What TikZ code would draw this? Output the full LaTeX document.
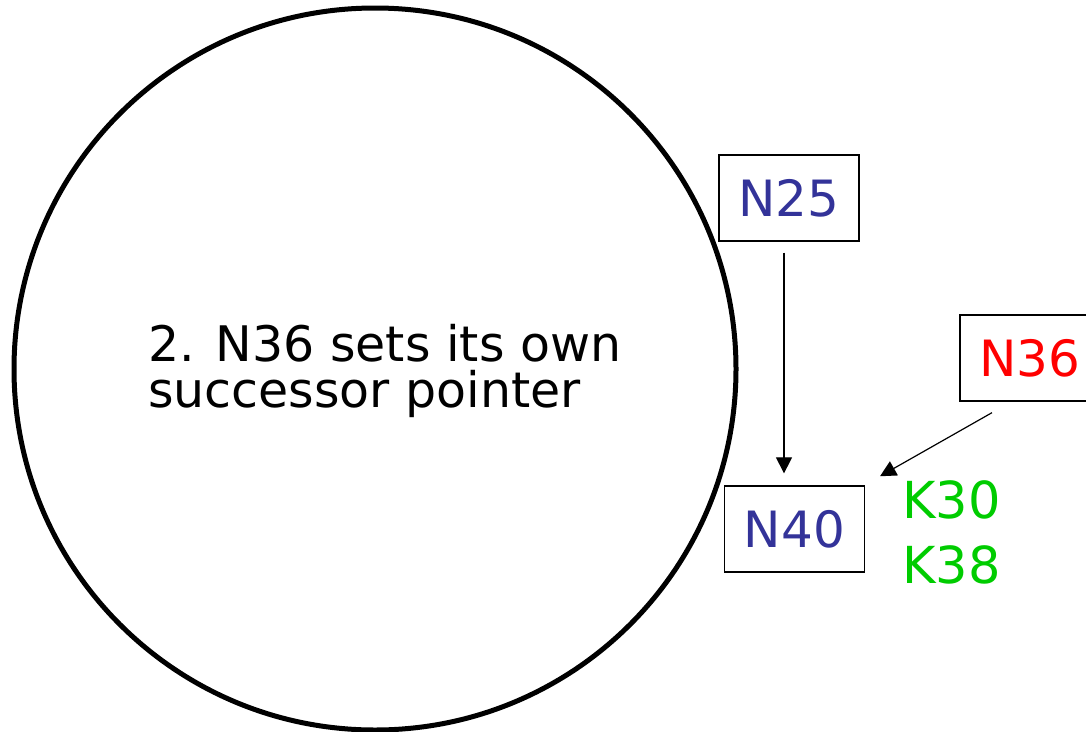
\documentclass[tikz,border=0pt]{standalone}
\usepackage{fontspec}
\setmainfont{DejaVu Sans}
\usetikzlibrary{arrows.meta}
\definecolor{peerblue}{RGB}{51,51,153}
\definecolor{keygreen}{RGB}{0,204,0}

\begin{document}
\begin{tikzpicture}[x=1pt,y=-1pt,
    peer/.style={draw, line width=1.3pt, minimum width=140pt, minimum height=86pt, inner sep=0pt, font=\fontsize{50}{60}\selectfont},
    ptr/.style={-{Triangle[length=16pt,width=16pt]}, line width=1.2pt}]
    \useasboundingbox (0,0) rectangle (1086,731);

    % Ring
    \draw[line width=5pt] (375,369) circle (361pt);
    \node[anchor=base west, align=left, inner sep=0pt, font=\fontsize{49}{46}\selectfont] (note) at (148,407) {2. N36 sets its own\\successor pointer};

    % Nodes on the ring
    \node[peer, text=peerblue] (n25) at (789,198) {N25};
    \node[peer, text=peerblue] (n40) at (794.5,529) {N40};
    \node[peer, text=red] (n36) at (1030,358) {N36};

    % Keys held by N40
    \node[anchor=base west, align=left, inner sep=0pt, text=keygreen, font=\fontsize{51}{64.7}\selectfont] (keys) at (902,583) {K30\\K38};

    % Successor pointers
    \draw[ptr] ([xshift=-5pt,yshift=-11pt]n25.south) -- ([xshift=-10.5pt,yshift=12pt]n40.north);
    \draw[ptr] ([xshift=-38pt,yshift=-11pt]n36.south) -- ([xshift=-22pt,yshift=4pt]keys.north west);
\end{tikzpicture}
\end{document}
